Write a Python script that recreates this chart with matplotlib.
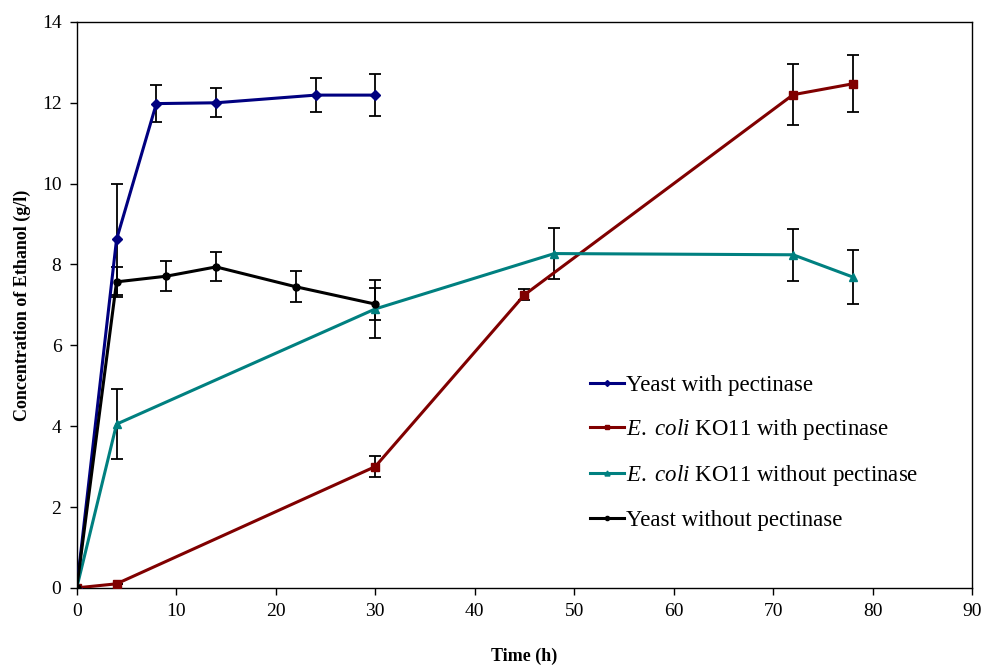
"""Ethanol concentration over time for yeast and E. coli KO11, with/without pectinase."""
import matplotlib

matplotlib.use("Agg")
import matplotlib.pyplot as plt

plt.rcParams["font.family"] = ["Liberation Serif", "DejaVu Serif"]
plt.rcParams["mathtext.fontset"] = "custom"
plt.rcParams["mathtext.rm"] = "Liberation Serif"
plt.rcParams["mathtext.it"] = "Liberation Serif:italic"

# yeast with pectinase
yp_t = [0, 4, 8, 14, 24, 30]
yp_c = [0, 8.62, 11.98, 12.0, 12.19, 12.19]
yp_e = [0, 1.38, 0.45, 0.36, 0.43, 0.52]

# E. coli KO11 with pectinase
ep_t = [0, 4, 30, 45, 72, 78]
ep_c = [0, 0.1, 3.0, 7.25, 12.2, 12.47]
ep_e = [0, 0, 0.26, 0.14, 0.75, 0.71]

# E. coli KO11 without pectinase
en_t = [0, 4, 30, 48, 72, 78]
en_c = [0, 4.05, 6.9, 8.27, 8.24, 7.69]
en_e = [0, 0.87, 0.72, 0.64, 0.64, 0.68]

# yeast without pectinase
yn_t = [0, 4, 9, 14, 22, 30]
yn_c = [0, 7.57, 7.71, 7.94, 7.45, 7.02]
yn_e = [0, 0.37, 0.37, 0.36, 0.38, 0.4]

labels = ["Yeast with pectinase",
          r"$\mathit{E.\ coli}$ KO11 with pectinase",
          r"$\mathit{E.\ coli}$ KO11 without pectinase",
          "Yeast without pectinase"]

C_YP = "#000080"; C_EP = "#800000"; C_EN = "#008080"; C_YN = "#000000"


def main():
    fig = plt.figure(figsize=(9.84, 6.65), dpi=100)
    ax = fig.add_axes([0.078, 0.116, 0.910, 0.851])

    series = [
        (yp_t, yp_c, yp_e, C_YP, "D", 5),
        (ep_t, ep_c, ep_e, C_EP, "s", 6),
        (en_t, en_c, en_e, C_EN, "^", 6),
        (yn_t, yn_c, yn_e, C_YN, "o", 5),
    ]
    handles = []
    for (t, c, e, col, mk, ms), lab in zip(series, labels):
        ax.errorbar(t, c, yerr=e, fmt="none", ecolor="black", elinewidth=1.3,
                    capsize=4, capthick=1.3, zorder=2)
        h, = ax.plot(t, c, color=col, lw=2.2, marker=mk, ms=ms, mec=col,
                     mfc=col, label=lab, zorder=3)
        handles.append(h)

    ax.set_xlim(0, 90); ax.set_ylim(0, 14)
    ax.set_xticks(range(0, 91, 10)); ax.set_yticks(range(0, 15, 2))
    ax.tick_params(direction="out", length=5, width=1, labelsize=14,
                   colors="black", pad=6)
    for s in ax.spines.values():
        s.set_linewidth(1)
    ax.set_xlabel("Time (h)", fontsize=13, fontweight="bold", labelpad=20)
    ax.set_ylabel("Concentration of Ethanol (g/l)", fontsize=13,
                  fontweight="bold", labelpad=8)

    ax.legend(handles=handles, loc="upper left", bbox_to_anchor=(0.56, 0.396),
              frameon=False, fontsize=16.5, handlelength=1.5, handletextpad=0.1,
              labelspacing=0.92, markerscale=0.6, borderpad=0)

    fig.savefig("out.png", dpi=100)
    plt.close(fig)


if __name__ == "__main__":
    main()
